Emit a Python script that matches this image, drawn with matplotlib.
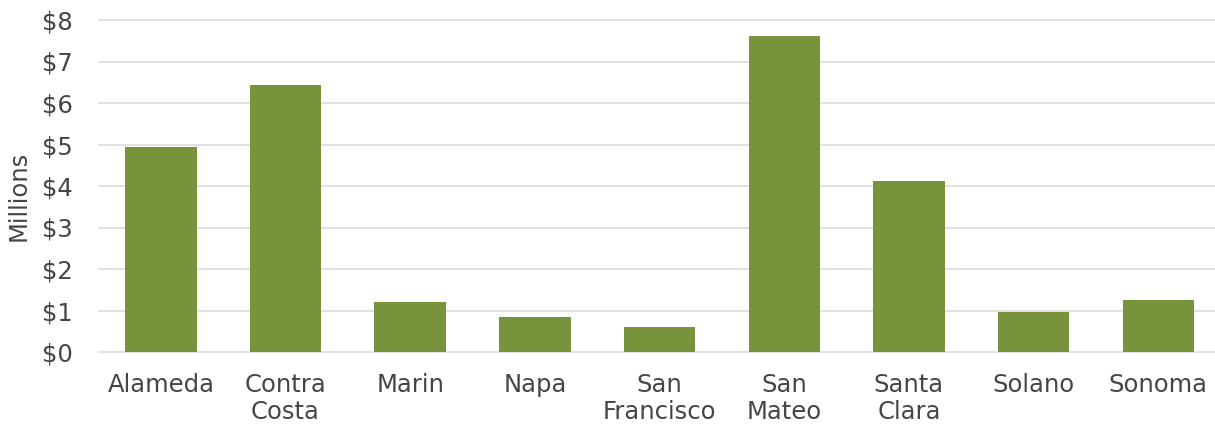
import matplotlib
matplotlib.use('Agg')
import matplotlib.pyplot as plt

# 各县数值（百万美元）
counties = ['Alameda', 'Contra\nCosta', 'Marin', 'Napa', 'San\nFrancisco',
            'San\nMateo', 'Santa\nClara', 'Solano', 'Sonoma']
values = [4.94, 6.43, 1.21, 0.84, 0.60, 7.61, 4.12, 0.96, 1.25]
y_ticks = [0, 1, 2, 3, 4, 5, 6, 7, 8]
y_tick_labels = ['$' + str(v) for v in y_ticks]

plt.rcParams['font.family'] = ['DejaVu Sans']
text_color = '#454545'

W, H = 1215, 426
fig = plt.figure(figsize=(W / 100, H / 100), dpi=100)
# 绘图区右侧略超出画布
ax_left, ax_right, ax_top, ax_bottom = 98.5, 1220.6, 20, 352
ax = fig.add_axes([ax_left / W, 1 - ax_bottom / H, (ax_right - ax_left) / W, (ax_bottom - ax_top) / H])

x = range(len(counties))
ax.bar(x, values, width=0.573, color='#77933C', zorder=3)

ax.set_xlim(-0.5, len(counties) - 0.5)
ax.set_ylim(0, 8)
ax.set_yticks(y_ticks)
ax.set_yticklabels(y_tick_labels)
ax.set_xticks(list(x))
ax.set_xticklabels(counties, linespacing=1.15)

ax.grid(axis='y', color='#d9d9d9', linewidth=1.1, zorder=0)
for gl in ax.get_ygridlines():
    gl.set_clip_on(False)
for s in ['top', 'right', 'left', 'bottom']:
    ax.spines[s].set_visible(False)
ax.tick_params(axis='both', length=0, labelsize=17.5, colors=text_color)
ax.tick_params(axis='y', pad=18.5)
ax.tick_params(axis='x', pad=15)

ax.set_ylabel('Millions', fontsize=17.5, color=text_color)
ax.yaxis.set_label_coords((31 - ax_left) / (ax_right - ax_left), 0.47)

fig.savefig('out.png', dpi=100)
